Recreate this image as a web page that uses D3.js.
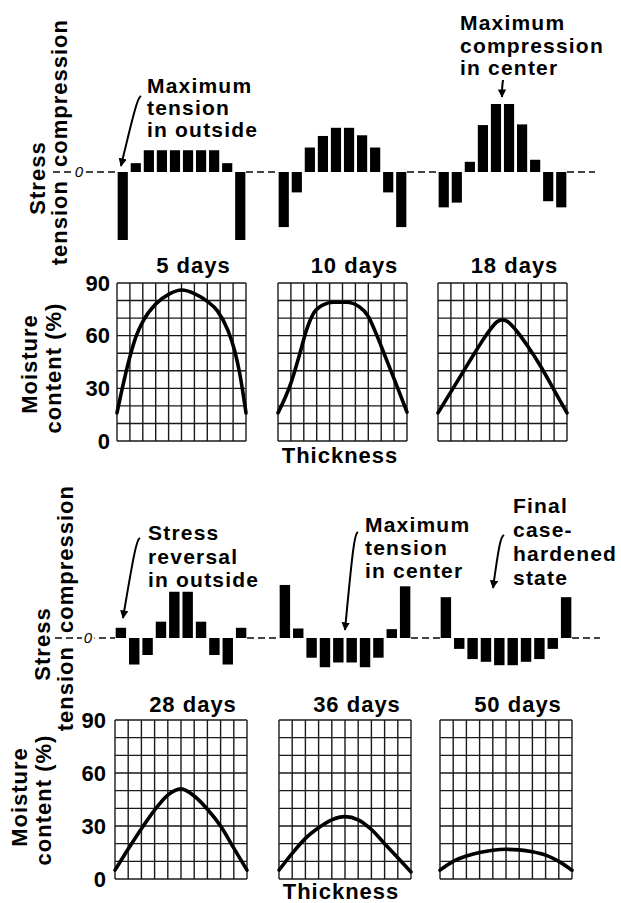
<!DOCTYPE html>
<html>
<head>
<meta charset="utf-8">
<script src="https://cdn.jsdelivr.net/npm/d3@7"></script>
<style>
  html, body { margin: 0; padding: 0; background: #fff; }
  svg { display: block; font-family: "Liberation Sans", Arial, Helvetica, sans-serif; font-weight: bold; }
</style>
</head>
<body>
<svg id="chart" width="621" height="903"></svg>
<script>
// ---- data ----
const titlesTop = ["5 days", "10 days", "18 days"];
const titlesBottom = ["28 days", "36 days", "50 days"];
const moistureTicks = [0, 30, 60, 90];

// stress in each of the 10 layers across the board (+ compression, - tension)
const stress5  = [-10, 1.3, 3.2, 3.2, 3.2, 3.2, 3.2, 3.2, 1.3, -10];
const stress10 = [-8.1, -3.0, 3.6, 5.3, 6.5, 6.5, 5.4, 3.6, -3.0, -8.1];
const stress18 = [-5.2, -4.5, 1.5, 6.9, 10, 10, 7.0, 1.8, -4.3, -5.2];
const stress28 = [1.5, -3.9, -2.5, 2.4, 6.8, 6.8, 2.4, -2.5, -3.9, 1.5];
const stress36 = [7.8, 1.4, -2.9, -4.3, -3.6, -3.6, -4.3, -2.9, 1.3, 7.6];
const stress50 = [6.0, -1.6, -3.1, -3.5, -4.0, -4.0, -3.5, -3.1, -1.6, 6.0];

// moisture profiles: [position across thickness 0..10, moisture %]
const mc5  = [[0, 16], [0.5, 33], [1, 48], [1.5, 60], [2, 68], [3, 78], [4, 83.5], [5, 86], [6, 84], [7, 79.5], [7.8, 74], [8.6, 63], [9.1, 52], [9.5, 39], [10, 16]];
const mc10 = [[0, 16], [1, 33], [1.7, 50], [2.2, 63], [2.7, 72], [3.5, 77.5], [4.3, 79], [5.3, 79], [6.3, 76.5], [7, 71], [7.5, 63], [8.4, 46.5], [9.1, 33.5], [10, 16.5]];
const mc18 = [[0, 16], [1, 28], [2, 40], [3, 52], [4, 63], [4.6, 68], [5, 69], [5.4, 68], [6, 63.5], [7, 53.5], [8, 42], [9, 29], [10, 16]];
const mc28 = [[0, 5], [1, 17], [2, 28.5], [3, 39], [4, 47.5], [5, 51], [6, 47], [7, 39.5], [8, 30], [9, 17.5], [10, 5]];
const mc36 = [[0, 5], [1, 14.5], [2, 23], [3, 29], [4, 33.5], [5, 35.3], [6, 33.5], [7, 28], [8, 20], [9, 12], [10, 4]];
const mc50 = [[0, 5], [1, 10], [2, 13], [3, 15], [4, 16.3], [5, 16.8], [6, 16.5], [7, 15.4], [8, 13.5], [9, 10], [10, 5]];

const notesTop = [
  { lines: ["Maximum", "tension", "in outside"], x: 147, y: 93, step: 22, arrow: [[141, 96], [137, 99], [121, 166]] },
  { lines: ["Maximum", "compression", "in center"], x: 460, y: 30, step: 22.5, arrow: [[503, 80], [502, 88], [502, 97]] }
];
const notesBottom = [
  { lines: ["Stress", "reversal", "in outside"], x: 148, y: 540, step: 23.5, arrow: [[140, 538], [136, 541], [123, 618]] },
  { lines: ["Maximum", "tension", "in center"], x: 365, y: 532, step: 23, arrow: [[358, 532], [354, 535], [345, 630]] },
  { lines: ["Final", "case-", "hardened", "state"], x: 513, y: 513, step: 24, arrow: [[504, 535], [500, 538], [493, 588]] }
];

// ---- layout ----
const blocks = [
  {
    titles: titlesTop, stress: [stress5, stress10, stress18], mc: [mc5, mc10, mc18], notes: notesTop,
    zeroY: 172, gridTop: 283, gridBottom: 441, gridX: [117, 278, 438], gridW: 129,
    tickX: 110, titleY: 273, titleDx: 12, thickY: 463, thickX: 340,
    stressX: 45, compX: 67, zeroMarkX: 79, lineStart: 53, lineEnd: 595,
    moistX: 37, moistY: 364, contentX: 61, contentY: 368
  },
  {
    titles: titlesBottom, stress: [stress28, stress36, stress50], mc: [mc28, mc36, mc50], notes: notesBottom,
    zeroY: 638, gridTop: 720, gridBottom: 879, gridX: [115, 279, 440], gridW: 132,
    tickX: 106, titleY: 712, titleDx: 12, thickY: 899, thickX: 341,
    stressX: 50, compX: 73, zeroMarkX: 88, lineStart: 55, lineEnd: 600,
    moistX: 27, moistY: 797, contentX: 51, contentY: 800
  }
];

const svg = d3.select("#chart");
const ink = "#000";

const defs = svg.append("defs");
defs.append("marker")
  .attr("id", "arrowHead")
  .attr("viewBox", "0 0 10 10")
  .attr("refX", 9).attr("refY", 5)
  .attr("markerWidth", 4.2).attr("markerHeight", 4.2)
  .attr("markerUnits", "strokeWidth")
  .attr("orient", "auto")
  .append("path")
  .attr("d", "M0,0 L10,5 L0,10 Z")
  .attr("fill", ink);

function drawBlock(b) {
  const g = svg.append("g");

  const yStress = d3.scaleLinear().domain([-10, 10]).range([b.zeroY + 68, b.zeroY - 68]);
  const yMoist = d3.scaleLinear().domain([0, 90]).range([b.gridBottom, b.gridTop]);

  // zero line pieces between the bar groups
  const barRanges = b.gridX.map(gx => [gx, gx + b.gridW]);
  const gaps = [[b.lineStart, barRanges[0][0]]];
  for (let i = 0; i < barRanges.length - 1; i++) gaps.push([barRanges[i][1], barRanges[i + 1][0]]);
  gaps.push([barRanges[barRanges.length - 1][1], b.lineEnd]);

  g.append("g")
    .selectAll("line")
    .data(gaps)
    .join("line")
    .attr("x1", d => d[0]).attr("x2", d => d[1])
    .attr("y1", yStress(0)).attr("y2", yStress(0))
    .attr("stroke", "#444")
    .attr("stroke-width", 2)
    .attr("stroke-dasharray", "7,4");

  // italic zero mark on the line
  g.append("text")
    .attr("x", b.zeroMarkX).attr("y", yStress(0))
    .attr("dy", "0.35em")
    .attr("text-anchor", "middle")
    .attr("font-size", 15)
    .attr("font-style", "italic")
    .attr("font-weight", "normal")
    .attr("stroke", "#fff").attr("stroke-width", 5)
    .attr("paint-order", "stroke")
    .attr("fill", ink)
    .text("0");

  b.gridX.forEach((gx, p) => {
    // stress bars
    const xBar = d3.scaleBand().domain(d3.range(10)).range([gx, gx + b.gridW])
      .paddingInner(0.22).paddingOuter(0.05);

    g.append("g")
      .selectAll("rect")
      .data(b.stress[p])
      .join("rect")
      .attr("x", (d, i) => xBar(i))
      .attr("width", xBar.bandwidth())
      .attr("y", d => yStress(Math.max(0, d)))
      .attr("height", d => Math.abs(yStress(d) - yStress(0)))
      .attr("fill", ink);

    // moisture grid
    const xM = d3.scaleLinear().domain([0, 10]).range([gx, gx + b.gridW]);
    const grid = g.append("g").attr("stroke", "#1a1a1a").attr("stroke-width", 1.4);
    grid.selectAll("line.v")
      .data(d3.range(0, 11))
      .join("line")
      .attr("class", "v")
      .attr("x1", d => xM(d)).attr("x2", d => xM(d))
      .attr("y1", yMoist(0)).attr("y2", yMoist(90));
    grid.selectAll("line.h")
      .data(d3.range(0, 91, 10))
      .join("line")
      .attr("class", "h")
      .attr("x1", xM(0)).attr("x2", xM(10))
      .attr("y1", d => yMoist(d)).attr("y2", d => yMoist(d));

    // moisture curve
    const line = d3.line()
      .x(d => xM(d[0]))
      .y(d => yMoist(d[1]))
      .curve(d3.curveMonotoneX);

    g.append("path")
      .datum(b.mc[p])
      .attr("d", line)
      .attr("fill", "none")
      .attr("stroke", ink)
      .attr("stroke-width", 3.6)
      .attr("stroke-linecap", "round");

    // panel title
    g.append("text")
      .attr("x", gx + b.gridW / 2 + b.titleDx)
      .attr("y", b.titleY)
      .attr("text-anchor", "middle")
      .attr("font-size", 22)
      .attr("letter-spacing", 1)
      .attr("fill", ink)
      .text(b.titles[p]);
  });

  // moisture axis labels
  const axis = d3.axisLeft(yMoist)
    .tickValues(moistureTicks)
    .tickSize(0)
    .tickPadding(b.gridX[0] - b.tickX);
  const ax = g.append("g")
    .attr("transform", `translate(${b.gridX[0]},0)`)
    .call(axis);
  ax.select(".domain").remove();
  ax.selectAll("text")
    .attr("font-size", 22)
    .attr("font-family", null)
    .attr("fill", ink);

  // rotated labels
  const rot = (x, y, txt, anchor) => g.append("text")
    .attr("transform", `translate(${x},${y}) rotate(-90)`)
    .attr("text-anchor", anchor)
    .attr("font-size", 22)
    .attr("letter-spacing", 1)
    .attr("fill", ink)
    .text(txt);

  rot(b.stressX, yStress(0) + 6, "Stress", "middle");
  rot(b.compX, yStress(0) - 5, "compression", "start");
  rot(b.compX, yStress(0) + 8, "tension", "end");
  rot(b.moistX, b.moistY, "Moisture", "middle");
  rot(b.contentX, b.contentY, "content (%)", "middle");

  g.append("text")
    .attr("x", b.thickX).attr("y", b.thickY)
    .attr("text-anchor", "middle")
    .attr("font-size", 22)
    .attr("letter-spacing", 1)
    .attr("fill", ink)
    .text("Thickness");

  // annotations with arrows
  b.notes.forEach(n => {
    const t = g.append("text")
      .attr("font-size", 21)
      .attr("letter-spacing", 1.2)
      .attr("fill", ink);
    n.lines.forEach((s, i) => {
      t.append("tspan").attr("x", n.x).attr("y", n.y + i * n.step).text(s);
    });
    g.append("path")
      .attr("d", d3.line().curve(d3.curveBasis)(n.arrow))
      .attr("fill", "none")
      .attr("stroke", ink)
      .attr("stroke-width", 2)
      .attr("marker-end", "url(#arrowHead)");
  });
}

blocks.forEach(drawBlock);
</script>
</body>
</html>
